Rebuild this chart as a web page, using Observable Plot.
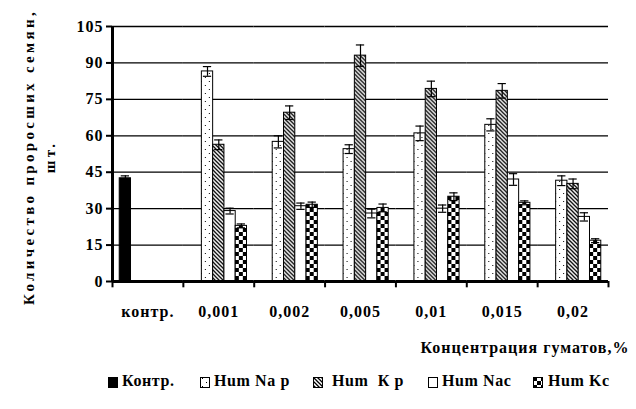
<!DOCTYPE html>
<html><head><meta charset="utf-8">
<script src="https://cdn.jsdelivr.net/npm/d3@7"></script>
<script src="https://cdn.jsdelivr.net/npm/@observablehq/plot@0.6"></script>
<style>
body{margin:0;background:#fff;}
#wrap{position:relative;width:636px;height:409px;font-family:"Liberation Serif","Times New Roman",Tinos,"DejaVu Serif",serif;font-weight:bold;color:#000;}
#wrap svg text{font-family:"Liberation Serif","Times New Roman",Tinos,"DejaVu Serif",serif;letter-spacing:1px;}
.lg{position:absolute;top:372px;font-size:16px;line-height:18px;white-space:pre;letter-spacing:0.6px;}
.sw{position:absolute;top:377px;}
</style></head><body>
<svg width="0" height="0" style="position:absolute"><defs>
<pattern id="dots" width="8" height="8" patternUnits="userSpaceOnUse"><rect width="8" height="8" fill="#fff"/><rect x="2" y="1" width="1" height="1" fill="#000"/><rect x="6" y="5" width="1" height="1" fill="#000"/></pattern>
<pattern id="hatch" width="4" height="4" patternUnits="userSpaceOnUse"><rect width="4" height="4" fill="#fff"/><path d="M-1,-1L5,5M-1,3L1,5M3,-1L5,1" stroke="#000" stroke-width="1.3"/></pattern>
<pattern id="check" width="8" height="8" patternUnits="userSpaceOnUse"><rect width="8" height="8" fill="#fff"/><rect width="4" height="4" fill="#000"/><rect x="4" y="4" width="4" height="4" fill="#000"/></pattern>
</defs></svg>
<div id="wrap"></div>
<script>
const categories = ["контр.", "0,001", "0,002", "0,005", "0,01", "0,015", "0,02"];
const seriesNames = ["Контр.", "Hum Na p", "Hum К р", "Hum Nac", "Hum Kc"];
const legendLabels = ["Контр.", "Hum Na p", "Hum  К р", "Hum Nac", "Hum Kc"];
const yTicks = [0, 15, 30, 45, 60, 75, 90, 105];
const yTitle = "Количество проросших семян,\nшт.";
const xTitle = "Концентрация гуматов,%";

const control = [42.5];
const controlErr = [1];
const humNaP = [86.5, 57.5, 54.5, 61, 64.5, 41.5];
const humNaPErr = [2, 2.5, 1.8, 3, 2.5, 2];
const humKP = [56.3, 69.5, 93, 79.3, 78.5, 40.2];
const humKPErr = [2, 2.8, 4.4, 3.2, 3, 2];
const humNac = [29, 31, 28, 30, 42, 26.6];
const humNacErr = [1.2, 1.3, 1.8, 1.5, 2.4, 1.7];
const humKc = [22.9, 31.6, 30.3, 34.9, 32.4, 16.8];
const humKcErr = [0.8, 1.1, 1.6, 1.6, 0.8, 0.8];

const fills = ["#000", "url(#dots)", "url(#hatch)", "#fff", "url(#check)"];

const rows = [{cat: categories[0], series: seriesNames[0], value: control[0], err: controlErr[0]}];
const seriesVals = [[humNaP, humNaPErr], [humKP, humKPErr], [humNac, humNacErr], [humKc, humKcErr]];
for (let i = 1; i < categories.length; i++) {
  seriesVals.forEach(([v, e], j) => rows.push({cat: categories[i], series: seriesNames[j + 1], value: v[i - 1], err: e[i - 1]}));
}

const W = 636, H = 370, mL = 112, mR = 28, mT = 26, mB = H - 281;
const fxStep = (W - mL - mR) / categories.length;
const xPadOuter = 0.64;
const xStep = fxStep / (seriesNames.length + 2 * xPadOuter);
const edge = xStep * (xPadOuter + 0.5);
const last = categories[categories.length - 1];
const serif = "Liberation Serif, Times New Roman, Tinos, DejaVu Serif, serif";

const chart = Plot.plot({
  width: W, height: H, marginLeft: mL, marginRight: mR, marginTop: mT, marginBottom: mB,
  style: {fontFamily: serif, fontWeight: "bold", color: "#000", background: "#fff", overflow: "visible"},
  fx: {domain: categories, padding: 0, round: false, label: null},
  x: {domain: seriesNames, paddingInner: 0, paddingOuter: xPadOuter, round: false, axis: null},
  y: {domain: [0, 105], axis: null},
  color: {domain: seriesNames, range: fills},
  marks: [
    Plot.gridY(yTicks, {stroke: "#000", strokeOpacity: 1, strokeWidth: 1.3}),
    Plot.barY(rows, {fx: "cat", x: "series", y: "value", fill: "series", stroke: "#000", strokeWidth: 1}),
    Plot.ruleX(rows, {fx: "cat", x: "series", y1: d => d.value - d.err, y2: d => d.value + d.err, stroke: "#000", strokeWidth: 1.2}),
    Plot.tickY(rows, {fx: "cat", x: "series", y: d => d.value + d.err, insetLeft: 1.5, insetRight: 1.5, stroke: "#000", strokeWidth: 1.2}),
    Plot.tickY(rows, {fx: "cat", x: "series", y: d => d.value - d.err, insetLeft: 1.5, insetRight: 1.5, stroke: "#000", strokeWidth: 1.2}),
    Plot.ruleY([0], {stroke: "#000", strokeWidth: 3}),
    Plot.ruleX(categories, {fx: d => d, x: () => seriesNames[0], dx: -edge, y1: 0, y2: -2.6, stroke: "#000", strokeWidth: 2}),
    Plot.ruleX([last], {fx: d => d, x: () => seriesNames[seriesNames.length - 1], dx: edge, y1: 0, y2: -2.6, stroke: "#000", strokeWidth: 2}),
    Plot.ruleX([categories[0]], {fx: d => d, x: () => seriesNames[0], dx: -edge, y1: 0, y2: 105, stroke: "#000", strokeWidth: 3}),
    Plot.axisY({ticks: yTicks, tickSize: 6, tickPadding: 3, fontSize: 16, strokeWidth: 2, label: null}),
    Plot.axisFx({anchor: "bottom", tickSize: 0, tickPadding: 24, fontSize: 16, label: null}),
    Plot.text([xTitle], {fx: () => last, frameAnchor: "bottom-right", dx: 21, dy: 71, textAnchor: "end", fontSize: 16}),
    Plot.text([yTitle], {fx: () => categories[0], frameAnchor: "left", textAnchor: "middle", rotate: -90, dx: -75, dy: 3, fontSize: 15, lineHeight: 1.45})
  ]
});
const wrap = document.getElementById("wrap");
wrap.appendChild(chart);
d3.select(chart).selectAll("text")
  .filter(function() { return this.textContent.startsWith("Количество"); })
  .style("letter-spacing", "3.3px");

const swX = [108, 200, 313, 428, 533];
const txX = [122, 214, 332, 442, 548];
legendLabels.forEach((lab, i) => {
  const sw = document.createElementNS("http://www.w3.org/2000/svg", "svg");
  sw.setAttribute("width", 10); sw.setAttribute("height", 11);
  sw.setAttribute("class", "sw");
  sw.style.left = swX[i] + "px";
  sw.innerHTML = `<rect x="0.5" y="0.5" width="9" height="10" fill="${fills[i]}" stroke="#000" stroke-width="1"/>`;
  wrap.appendChild(sw);
  const t = document.createElement("div");
  t.className = "lg"; t.style.left = txX[i] + "px"; t.textContent = lab;
  wrap.appendChild(t);
});
</script>
</body></html>
